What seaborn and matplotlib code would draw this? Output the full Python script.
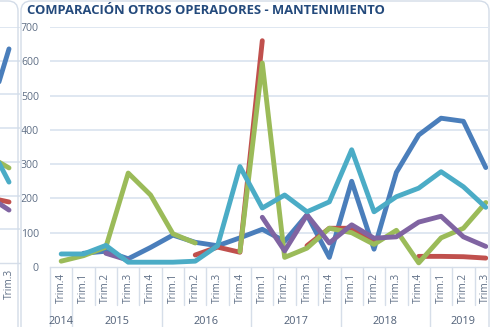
import numpy as np
import pandas as pd
import matplotlib
matplotlib.use("Agg")
import matplotlib.pyplot as plt
import seaborn as sns
from matplotlib.patches import FancyBboxPatch
from matplotlib.transforms import blended_transform_factory

# ---- datos -------------------------------------------------------------
titulo = "COMPARACIÓN OTROS OPERADORES - MANTENIMIENTO"
trimestres = ["Trim.4"] + ["Trim.1", "Trim.2", "Trim.3", "Trim.4"] * 4 + ["Trim.1", "Trim.2", "Trim.3"]
anios = ["2014", "2015", "2016", "2017", "2018", "2019"]
trim_por_anio = [1, 4, 4, 4, 4, 3]
y_ticks = [0, 100, 200, 300, 400, 500, 600, 700]

nan = np.nan
op_azul = [nan, 40, 46, 24, 57, 93, 72, 62, 85, 110, 75, 152, 28, 250, 52, 276, 385, 434, 425, 290]
op_rojo = [nan, nan, nan, nan, nan, nan, 35, 58, 43, 660, nan, 62, 113, 113, 78, nan, 31, 31, 30, 26]
op_verde = [17, 33, 58, 274, 210, 97, 70, nan, 45, 595, 28, 55, 113, 100, 66, 107, 12, 85, 113, 188]
op_morado = [nan, nan, 40, 20, nan, nan, nan, nan, nan, 145, 47, 152, 70, 123, 84, 88, 131, 148, 88, 60]
op_celeste = [38, 38, 63, 14, 14, 14, 17, 62, 293, 172, 210, 161, 190, 342, 161, 205, 230, 278, 234, 174]

# gráfico contiguo (solo asoma su extremo derecho)
vecino_trim = ["Trim.2", "Trim.3"]
vec_azul = [420, 635]
vec_rojo = [195, 181]
vec_verde = [320, 282]
vec_morado = [200, 157]
vec_celeste = [365, 240]

series = ["Op. 1", "Op. 2", "Op. 3", "Op. 4", "Op. 5"]
colores = ["#4A7EBB", "#C0504D", "#9BBB59", "#8064A2", "#4BACC6"]
paleta = dict(zip(series, colores))


def tabla_larga(valores_por_serie):
    filas = []
    for nombre, vals in zip(series, valores_por_serie):
        tramo = 0
        for i, v in enumerate(vals):
            if np.isnan(v):
                tramo += 1
                continue
            filas.append({"serie": nombre, "x": i, "valor": v, "tramo": f"{nombre}-{tramo}"})
    return pd.DataFrame(filas)


df = tabla_larga([op_azul, op_rojo, op_verde, op_morado, op_celeste])
df_vec = tabla_larga([vec_azul, vec_rojo, vec_verde, vec_morado, vec_celeste])

# ---- figura -------------------------------------------------------------
sns.set_theme(style="white")
plt.rcParams["font.family"] = ["Open Sans", "DejaVu Sans"]

W, H = 490, 327
fig = plt.figure(figsize=(W / 100, H / 100), dpi=100)
fig.patch.set_facecolor("white")

gris_eje = "#D6DEE9"
gris_txt = "#5F6F86"

# marcos redondeados de los dos gráficos
for (x0, ancho) in [(-200, 218), (21, 468)]:
    marco = FancyBboxPatch((x0, -20), ancho, H - 1 + 20,
                           boxstyle="round,pad=0,rounding_size=10",
                           transform=None, facecolor="none",
                           edgecolor="#D3DCE8", lw=1.0, zorder=0)
    fig.patches.append(marco)


def px_ax(left, right, bottom, top):
    return [left / W, (H - bottom) / H, (right - left) / W, (bottom - top) / H]


def preparar_eje(ax, xmax):
    ax.set_xlim(-0.5, xmax)
    ax.set_ylim(0, 700)
    ax.set_yticks(y_ticks)
    for yv in y_ticks[1:]:
        ax.axhline(yv, color="#DCE5F0", lw=1.3, zorder=0)
    for s in ["left", "right", "top"]:
        ax.spines[s].set_visible(False)
    ax.spines["bottom"].set_color(gris_eje)
    ax.spines["bottom"].set_linewidth(1.0)
    ax.tick_params(axis="x", length=0, pad=4)
    ax.set_xlabel("")
    ax.set_ylabel("")
    ax.set_facecolor("none")


# ---- gráfico principal --------------------------------------------------
ax = fig.add_axes(px_ax(50, 488, 267, 27))
sns.lineplot(data=df, x="x", y="valor", hue="serie", units="tramo",
             estimator=None, palette=paleta, hue_order=series,
             lw=3.5, legend=False, ax=ax, sort=False)
for ln in ax.lines:
    ln.set_solid_capstyle("round")
    ln.set_solid_joinstyle("round")
preparar_eje(ax, 19.1)
ax.set_xticks(range(len(trimestres)))
ax.set_xticklabels(trimestres, rotation=90, va="top", ha="center",
                   fontsize=7.3, color=gris_txt)
ax.set_yticklabels([str(v) for v in y_ticks], fontsize=7.6, color=gris_txt)
ax.tick_params(axis="y", length=0, pad=8)

# separadores del eje de categorías y etiquetas de año
tr = blended_transform_factory(ax.transData, ax.transAxes)
inicio = 0
limites_anio = [0]
for cuenta in trim_por_anio:
    inicio += cuenta
    limites_anio.append(inicio)
for i in range(len(trimestres) + 1):
    largo = -0.3 if i in limites_anio else -0.158
    ax.plot([i - 0.5, i - 0.5], [0, largo], transform=tr, color=gris_eje,
            lw=1.0, clip_on=False, zorder=1)
for a, c0, c1 in zip(anios, limites_anio[:-1], limites_anio[1:]):
    ax.text((c0 + c1 - 1) / 2, -0.225, a, transform=tr, ha="center", va="center",
            fontsize=7.8, color="#4F5F77")

fig.text(27 / W, 1 - 11 / H, titulo, ha="left", va="center",
         fontsize=9.4, fontweight="bold", color="#244A7C")

# ---- extremo del gráfico contiguo ---------------------------------------
ax2 = fig.add_axes(px_ax(-24, 20, 263, 27))
sns.lineplot(data=df_vec, x="x", y="valor", hue="serie", units="tramo",
             estimator=None, palette=paleta, hue_order=series,
             lw=3.5, legend=False, ax=ax2, sort=False)
preparar_eje(ax2, 1.5)
ax2.set_yticks([])
ax2.set_xticks([len(vecino_trim) - 1])
ax2.set_xticklabels(vecino_trim[-1:], rotation=90, va="top", ha="center",
                    fontsize=7.3, color=gris_txt)

fig.savefig("out.png", dpi=100, facecolor="white")
